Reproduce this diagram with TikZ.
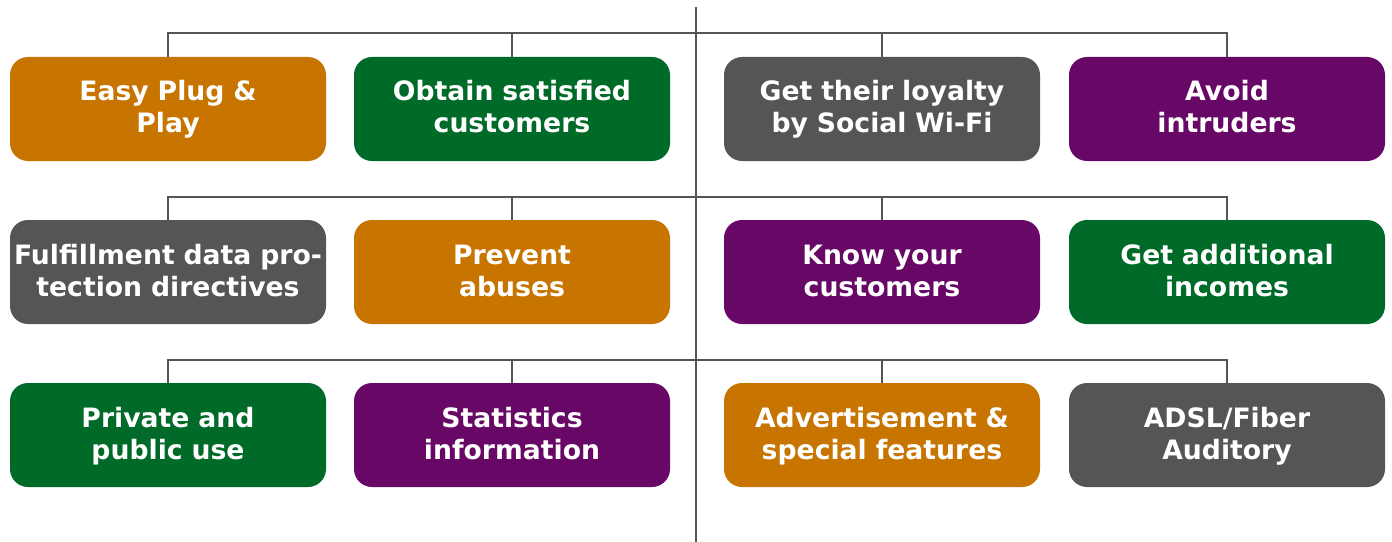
\documentclass[tikz,border=0pt]{standalone}
\usepackage{fontspec}
\setmainfont{DejaVu Sans}
\definecolor{corange}{HTML}{C87400}
\definecolor{cgreen}{HTML}{006B28}
\definecolor{cgray}{HTML}{555555}
\definecolor{cpurple}{HTML}{680866}
\definecolor{cline}{HTML}{555555}
\newcommand{\bst}{\rule[-5pt]{0pt}{22pt}}
\tikzset{
  box/.style={rounded corners=13.5pt, minimum width=237pt, minimum height=78pt, inner sep=0pt,
    text=white, font=\bfseries\fontsize{20}{24}\selectfont, align=center, text width=237pt},
  conn/.style={draw=cline, line width=1.8pt},
}
\begin{document}
\begin{tikzpicture}[x=0.75pt,y=-0.75pt]
\useasboundingbox (0,0) rectangle (1392,542);
% row 1
\node[box, fill=corange] (a1) at (168,109) {\bst Easy Plug \&\\\bst Play};
\node[box, fill=cgreen] (a2) at (512,109) {\bst Obtain satisfied\\\bst customers};
\node[box, fill=cgray] (a3) at (882,109) {\bst Get their loyalty\\\bst by Social Wi-Fi};
\node[box, fill=cpurple] (a4) at (1227,109) {\bst Avoid\\\bst intruders};
% row 2
\node[box, fill=cgray] (b1) at (168,272) {\bst Fulfillment data pro-\\\bst tection directives};
\node[box, fill=corange] (b2) at (512,272) {\bst Prevent\\\bst abuses};
\node[box, fill=cpurple] (b3) at (882,272) {\bst Know your\\\bst customers};
\node[box, fill=cgreen] (b4) at (1227,272) {\bst Get additional\\\bst incomes};
% row 3
\node[box, fill=cgreen] (c1) at (168,435) {\bst Private and\\\bst public use};
\node[box, fill=cpurple] (c2) at (512,435) {\bst Statistics\\\bst information};
\node[box, fill=corange] (c3) at (882,435) {\bst Advertisement \&\\\bst special features};
\node[box, fill=cgray] (c4) at (1227,435) {\bst ADSL/Fiber\\\bst Auditory};
% trunk
\coordinate (top) at (696,7);
\coordinate (bot) at (696,542);
\draw[conn] (top) -- (bot);
\foreach \r/\y in {a/33, b/197, c/360} {
  \draw[conn] (\r1.north) -- (\r1.north |- 0,\y) -- (\r4.north |- 0,\y) -- (\r4.north);
  \draw[conn] (\r2.north) -- (\r2.north |- 0,\y);
  \draw[conn] (\r3.north) -- (\r3.north |- 0,\y);
}
\end{tikzpicture}
\end{document}
